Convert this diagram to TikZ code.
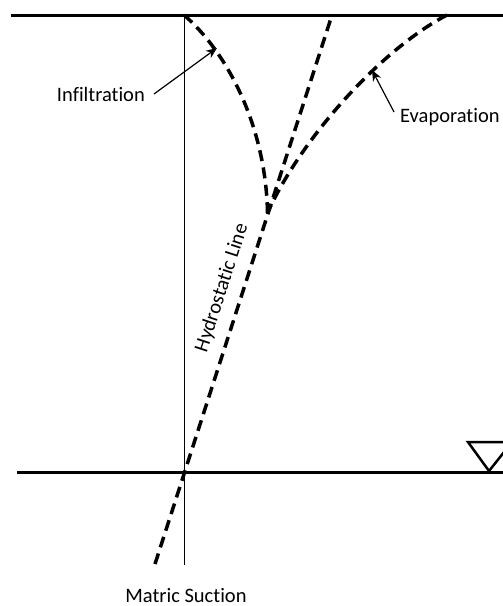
\documentclass[tikz,border=0pt]{standalone}
\usepackage{fontspec}
\setmainfont{Carlito}[Ligatures=NoCommon]
\usetikzlibrary{arrows.meta}
\begin{document}
\begin{tikzpicture}[x=1pt,y=-1pt,
  ground/.style={line width=3pt},
  axisline/.style={line width=0.8pt},
  curve/.style={line width=3.5pt,dash pattern=on 11pt off 6.5pt},
  pointer/.style={line width=1.2pt,-{Stealth[length=11pt,width=9pt]}},
  lbl/.style={inner sep=0pt,font=\fontsize{20.5}{24}\selectfont}]
\clip (0,0) rectangle (503,606);
\fill[white] (0,0) rectangle (503,606);
% coordinates
\coordinate (topL) at (11,15);
\coordinate (topR) at (510,15);
\coordinate (wtL) at (17,472);
\coordinate (wtR) at (510,472);
\coordinate (axTop) at (184,15);
\coordinate (axBot) at (184,565);
\coordinate (hBot) at (155,564);
\coordinate (hTop) at (332,15);
\coordinate (meet) at (267.5,213);
\coordinate (evTop) at (447,15);
% ground lines
\draw[ground] (topL) -- (topR);
\draw[ground] (wtL) -- (wtR);
\draw[axisline] (axTop) -- (axBot);
% water table symbol
\draw[line width=2.5pt,line join=miter] (468,442) -- (512,442) -- (489,471) -- cycle;
% curves
\draw[curve] (hBot) -- (hTop);
\draw[curve] (axTop) .. controls (230,55) and (266,130) .. (meet);
\draw[curve] (evTop) .. controls (380,50) and (300,140) .. (meet);
% labels
\node[lbl,anchor=east] (infl) at (145,94) {Infiltration};
\node[lbl,anchor=west] (evap) at (400,117) {Evaporation};
\node[lbl,anchor=base] (ms) at (186,602) {Matric Suction};
\node[lbl,rotate=72,anchor=center] (hl) at (222,288) {Hydrostatic Line};
\coordinate (infTip) at (217,48);
\coordinate (evTip) at (372,70);
\draw[pointer] (infl.east) ++(9,0) -- (infTip);
\draw[pointer] (394,112) -- (evTip);
\end{tikzpicture}
\end{document}
